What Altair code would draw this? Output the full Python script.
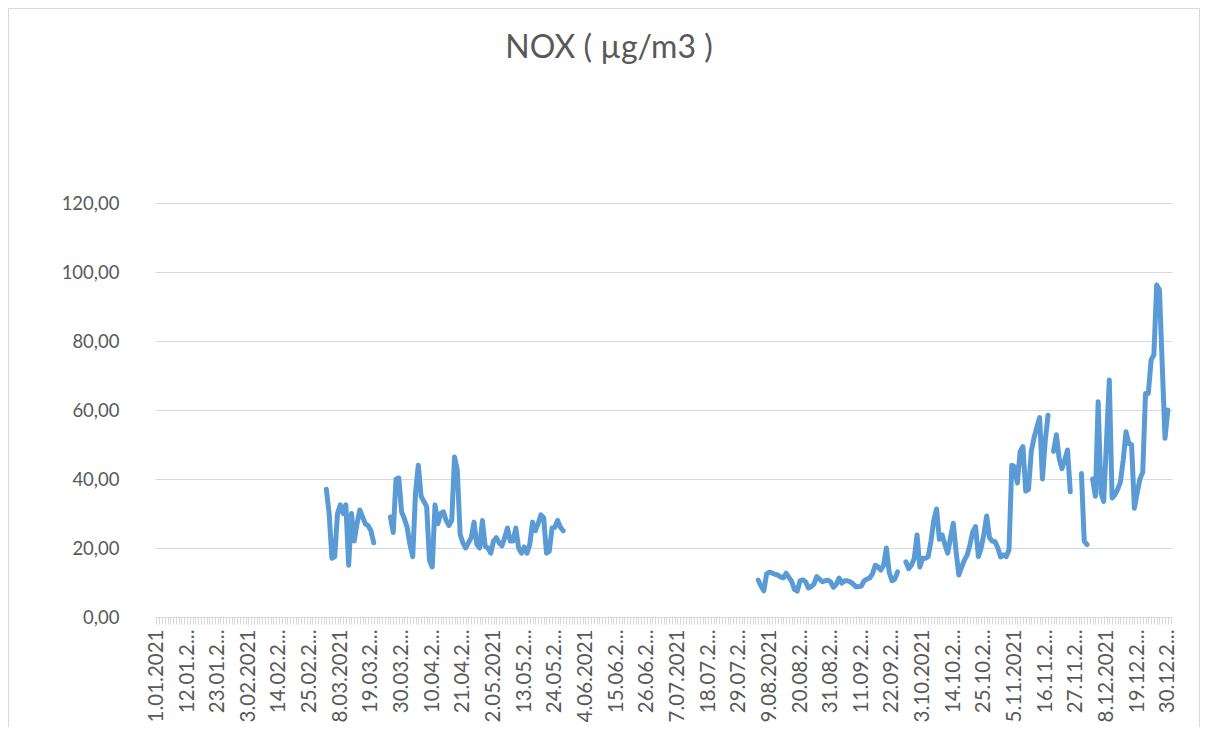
import json
import altair as alt
import pandas as pd

# ---- data (day index 0 = 1 Jan 2021) ----
title_text = ["NOX ( µg/m3 )"]

seg_a_start = 61   # 3 Mar
seg_a = [37, 30, 17, 17.5, 30, 32.5, 30, 32.5, 15, 30, 22, 27, 31, 29, 27, 26.5, 25, 21.5]

seg_b_start = 84   # 26 Mar
seg_b = [29, 24.5, 40, 40.3, 30.5, 28.5, 26, 21, 17.5, 36, 44, 35, 33.5, 32, 16.5, 14.5,
         32.5, 27, 30, 30.5, 28, 26.5, 28, 46.4, 42.6, 24, 21.5, 20, 21.5, 23, 27.5, 21,
         20, 28, 20.5, 20, 18.5, 22, 23, 21.5, 20.6, 23, 25.8, 22, 22, 25.8, 20, 18.5,
         20.3, 18.5, 21, 27.5, 25, 27, 29.6, 28.7, 18.5, 19, 25.8, 26, 28, 26, 25]

seg_c_start = 216  # 5 Aug
seg_c = [10.7, 9, 7.6, 12.5, 13, 12.7, 12.4, 12.2, 11.6, 11.3,
         12.7, 11.5, 10.3, 8, 7.5, 10.5, 10.8, 10.2, 8.4, 8.8,
         9.5, 11.7, 11, 10.2, 10.5, 10.7, 10.2, 8.6, 9.5, 11.3,
         9.8, 10.5, 10.5, 10.2, 9.6, 8.8, 8.8, 9, 10.5, 11,
         11.3, 12.5, 15, 14.5, 13.6, 15, 20, 13, 10.5, 11, 13.1]

seg_d_start = 269  # 27 Sep
seg_d = [16, 14, 15, 17, 23.8, 14.5, 17, 17, 17.5, 22,
         28, 31.3, 22.5, 23.8, 21, 18.5, 23, 27.2, 19, 12.2,
         14.5, 16.5, 18, 21, 24.7, 26.2, 17.5, 20, 24, 29.3,
         23, 22, 21.8, 20, 17.4, 18, 17.5, 19.5, 44, 43.5,
         38.8, 48, 49.4, 36.5, 37, 48, 52, 55, 57.8, 40,
         51, 58.5]

seg_e_start = 322  # 19 Nov
seg_e = [48, 52.8, 46, 43, 45.5, 48.4, 36.3]

seg_f_start = 332  # 29 Nov
seg_f = [41.6, 22, 21]

seg_g_start = 336  # 3 Dec
seg_g = [40, 35, 62.4, 36, 33.5, 51, 68.7, 34.5, 35.4, 37, 39.2, 45.5, 53.7, 50.3,
         49.9, 31.5, 36, 40, 42, 64.8, 64.8, 74.5, 76, 96.2, 94.8, 73, 51.8, 60]

x_labels = ["1.01.2021", "12.01.2...", "23.01.2...", "3.02.2021", "14.02.2...", "25.02.2...",
            "8.03.2021", "19.03.2...", "30.03.2...", "10.04.2...", "21.04.2...", "2.05.2021",
            "13.05.2...", "24.05.2...", "4.06.2021", "15.06.2...", "26.06.2...", "7.07.2021",
            "18.07.2...", "29.07.2...", "9.08.2021", "20.08.2...", "31.08.2...", "11.09.2...",
            "22.09.2...", "3.10.2021", "14.10.2...", "25.10.2...", "5.11.2021", "16.11.2...",
            "27.11.2...", "8.12.2021", "19.12.2...", "30.12.2..."]
label_step = 11
y_ticks = [0, 20, 40, 60, 80, 100, 120]

N_DAYS = 365
values = [None] * N_DAYS
for start, seg in [(seg_a_start, seg_a), (seg_b_start, seg_b), (seg_c_start, seg_c),
                   (seg_d_start, seg_d), (seg_e_start, seg_e), (seg_f_start, seg_f),
                   (seg_g_start, seg_g)]:
    for k, v in enumerate(seg):
        values[start + k] = v

df = pd.DataFrame({"day": list(range(N_DAYS)), "nox": values})

GRAY = "#595959"
FONT = "Lato"
W, H = 1017, 414
PAD = {"left": 147, "top": 195, "right": 28, "bottom": 110}

label_expr = ("datum.value % " + str(label_step) + " == 0 ? " + json.dumps(x_labels) +
              "[datum.value / " + str(label_step) + "] : ''")

line = alt.Chart(df).mark_line(
    color="#5B9BD5", strokeWidth=5, strokeCap="round", strokeJoin="round"
).encode(
    x=alt.X("day:Q",
            scale=alt.Scale(domain=[-0.5, N_DAYS - 0.5], nice=False, zero=False),
            axis=alt.Axis(values=list(range(N_DAYS)), labelExpr=label_expr, title=None,
                          grid=False, domainColor="#d9d9d9", tickColor="#d9d9d9", tickSize=7,
                          labelAngle=-90, labelAlign="right", labelBaseline="middle",
                          labelFont=FONT, labelFontSize=20.5, labelColor=GRAY,
                          labelOverlap=False, labelPadding=5, labelFlush=False,
                          labelBound=False)),
    y=alt.Y("nox:Q",
            scale=alt.Scale(domain=[0, 120], nice=False),
            axis=alt.Axis(values=y_ticks,
                          labelExpr="replace(format(datum.value, '.2f'), '.', ',')",
                          title=None, domain=False, ticks=False, gridColor="#d9d9d9",
                          gridWidth=1, labelFont=FONT, labelFontSize=18.5, labelColor=GRAY,
                          labelPadding=36)),
)

# chart-area border (Excel style)
border = alt.Chart(pd.DataFrame({"b": [0]})).mark_rect(
    fillOpacity=0, stroke="#d9d9d9", strokeWidth=1
).encode(
    x=alt.value(-PAD["left"] + 0.5), x2=alt.value(W + PAD["right"] - 0.5),
    y=alt.value(-PAD["top"] + 0.5), y2=alt.value(H + PAD["bottom"] + 40),
)

# chart title, centred on the whole chart area
title = alt.Chart(pd.DataFrame({"t": title_text})).mark_text(
    font=FONT, fontSize=32, color=GRAY, align="center", baseline="middle"
).encode(
    text="t:N",
    x=alt.value(609 - 8 - PAD["left"]),
    y=alt.value(48 - 8 - PAD["top"]),
)

chart = alt.layer(border, line, title).properties(
    width=W, height=H,
    autosize=alt.AutoSizeParams(type="none"),
    padding=PAD,
).configure_view(stroke=None)

chart.save("out.html", embed_options={"renderer": "svg", "actions": False})
